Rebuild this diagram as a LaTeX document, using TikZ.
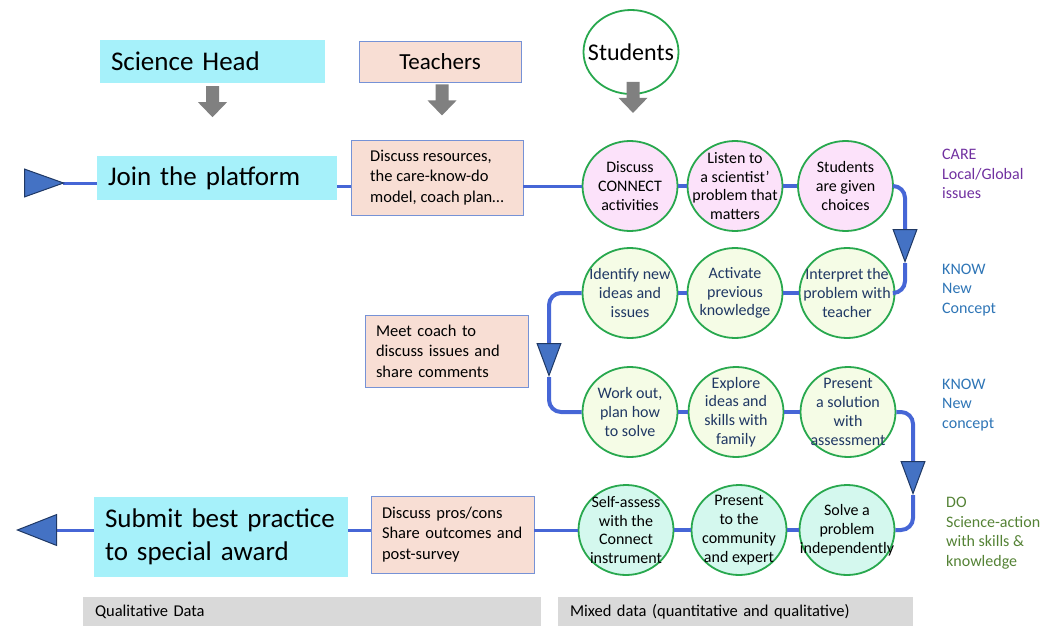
\documentclass[tikz,border=0pt]{standalone}
\usepackage{fontspec}
\setmainfont{Carlito}
\usetikzlibrary{arrows.meta, positioning, shapes.geometric}

% colours
\definecolor{headcyan}{RGB}{166,241,250}
\definecolor{peach}{RGB}{248,222,212}
\definecolor{peachline}{RGB}{118,146,214}
\definecolor{ringgreen}{RGB}{40,168,78}
\definecolor{carefill}{RGB}{252,226,250}
\definecolor{knowfill}{RGB}{245,252,230}
\definecolor{dofill}{RGB}{212,248,238}
\definecolor{flowblue}{RGB}{70,102,214}
\definecolor{tipblue}{RGB}{68,114,196}
\definecolor{tipnavy}{RGB}{31,56,100}
\definecolor{knownavy}{RGB}{32,56,100}
\definecolor{careviolet}{RGB}{112,48,160}
\definecolor{knowblue}{RGB}{46,117,182}
\definecolor{dogreen}{RGB}{84,130,53}
\definecolor{arrowgray}{RGB}{128,128,128}
\definecolor{bandgray}{RGB}{217,217,217}

\newcommand{\ringwidth}{95pt}
\newcommand{\ringheight}{90pt}

\tikzstyle{role} = [% cyan heading box
  rectangle,
  fill=headcyan,
  inner xsep=11pt,
  inner ysep=0pt,
  align=left,
  font=\fontsize{27}{32.5}\selectfont
  ]
\tikzstyle{note} = [% peach text box
  rectangle,
  draw=peachline,
  fill=peach,
  line width=0.9pt,
  inner xsep=11pt,
  inner ysep=0pt,
  font=\fontsize{16.5}{20.5}\selectfont
  ]
\tikzstyle{ring} = [% activity circle
  ellipse,
  minimum width=\ringwidth,
  minimum height=\ringheight,
  inner sep=-26pt, % negative, so the text never grows the ring
  draw=ringgreen,
  line width=1.8pt,
  align=center,
  font=\fontsize{16}{18.8}\selectfont
  ]
\tikzstyle{band} = [% grey data band
  rectangle,
  fill=bandgray,
  minimum height=29pt,
  inner xsep=12pt,
  align=left,
  font=\fontsize{16.5}{19}\selectfont
  ]
\tikzstyle{tag} = [% phase label on the right
  anchor=west,
  align=left,
  inner sep=0pt,
  font=\fontsize{16}{19.5}\selectfont
  ]
\tikzstyle{link} = [% thin connector
  line width=3pt,
  draw=flowblue
  ]
\tikzstyle{flow} = [% thick connector between circles
  line width=4pt,
  draw=flowblue,
  rounded corners=12pt
  ]

\tikzset{
  startmark/.tip={Triangle[reversed, length=41pt, width=29pt,
    color=tipnavy, fill=tipblue, line width=1pt]},
  turnmark/.tip={Triangle[length=34pt, width=25pt,
    color=tipnavy, fill=tipblue, line width=1pt]},
  endmark/.tip={Triangle[length=41pt, width=32pt,
    color=tipnavy, fill=tipblue, line width=1pt]},
  dropdown/.pic={% grey arrow under a heading
    \fill[arrowgray] (-6.5,0) -- (6.5,0) -- (6.5,16) -- (14.5,16)
      -- (0,31) -- (-14.5,16) -- (-6.5,16) -- cycle;
  }
}

\begin{document}
\begin{tikzpicture}[x=1pt, y=-1pt]
\useasboundingbox (0,0) rectangle (1056,626);

%%% Headings
\node[role, minimum width=225pt, minimum height=43pt, text width=203pt] (head) at (212.5,61.5) {Science Head};
\node[note, minimum width=162pt, minimum height=41pt, font=\fontsize{23}{27}\selectfont] (teach) at (440,61.5) {Teachers};
\node[ring, fill=white, minimum height=84pt, font=\fontsize{24}{28}\selectfont] (stud) at (631,52) {Students};

\pic at ([yshift=-3pt]head.south) {dropdown};
\pic at ([xshift=2pt, yshift=-2pt]teach.south) {dropdown};
\pic at ([xshift=2pt, yshift=13pt]stud.south) {dropdown};

%%% Boxes
\node[role, minimum height=44pt, text width=218pt] (join) at (217,178) {Join the platform};
\node[note, minimum width=172pt, minimum height=75pt, align=left] (res) at (437,177.5) {Discuss resources,\\the care-know-do\\model, coach plan\dots};
\node[note, minimum height=72pt, text width=141pt, align=left] (coach) at (446.5,351) {Meet coach to\\discuss issues and\\share comments};
\node[note, minimum height=77pt, text width=141pt, align=left] (pros) at (452.5,534.5) {Discuss pros/cons\\Share outcomes and\\post-survey};
\node[role, minimum height=80pt, text width=232pt] (award) at (221,537) {Submit best practice\\to special award};

%%% Circles
\node[ring, fill=carefill] (c1) at (630,186) {Discuss\\CONNECT\\activities};
\node[ring, fill=carefill] (c2) at (735,186) {Listen to\\a scientist’\\problem that\\matters};
\node[ring, fill=carefill] (c3) at (845.5,186) {Students\\are given\\choices};

\node[ring, fill=knowfill, text=knownavy] (c4) at (630,293) {Identify new\\ideas and\\issues};
\node[ring, fill=knowfill, text=knownavy] (c5) at (735,293) {Activate\\previous\\knowledge};
\node[ring, fill=knowfill, text=knownavy] (c6) at (847,293) {Interpret the\\problem with\\teacher};

\node[ring, fill=knowfill, text=knownavy] (c7) at (630,412) {Work out,\\plan how\\to solve};
\node[ring, fill=knowfill, text=knownavy] (c8) at (736,412) {Explore\\ideas and\\skills with\\family};
\node[ring, fill=knowfill, text=knownavy] (c9) at (848,412) {Present\\a solution\\with\\assessment};

\node[ring, fill=dofill] (c10) at (626,530) {Self-assess\\with the\\Connect\\instrument};
\node[ring, fill=dofill] (c11) at (739,530) {Present\\to the\\community\\and expert};
\node[ring, fill=dofill] (c12) at (847,530) {Solve a\\problem\\independently};

%%% Phase labels
\node[tag, text=careviolet] (care) at (942,174) {CARE\\Local/Global\\issues};
\node[tag, text=knowblue] (know) at (942,290) {KNOW\\New\\Concept};
\node[tag, text=knowblue] (knowb) at (942,405) {KNOW\\New\\concept};
\node[tag, text=dogreen] (do) at (946,533) {DO\\Science-action\\with skills \&\\knowledge};

%%% Data bands
\node[band, minimum width=458pt, text width=434pt] (qual) at (312,611.5) {Qualitative Data};
\node[band, minimum width=355pt, text width=331pt] (mixed) at (735.5,611.5) {Mixed data (quantitative and qualitative)};

%%% Connectors
\coordinate (entry) at (24,183);
\coordinate (turnA) at (905,263);
\coordinate (turnB) at (549,377);
\coordinate (turnC) at (913,495);
\coordinate (exit) at (16,530);

\draw[link, {startmark}-] (entry) -- (join.west |- entry);
\draw[link] (join.east |- c1) -- (res.west |- c1);
\draw[link] (res.east |- c1) -- (c1);
\draw[flow] (c1) -- (c2);
\draw[flow] (c2) -- (c3);
\draw[flow, -{turnmark}] (c3.east) -| (turnA);
\draw[flow] (turnA) |- (c6.east);
\draw[flow] (c6) -- (c5);
\draw[flow] (c5) -- (c4);
\draw[flow, -{turnmark}] (c4.west) -| (turnB);
\draw[flow] (turnB) |- (c7.west);
\draw[flow] (c7) -- (c8);
\draw[flow] (c8) -- (c9);
\draw[flow, -{turnmark}] (c9.east) -| (turnC);
\draw[flow] (turnC) |- (c12.east);
\draw[flow] (c12) -- (c11);
\draw[flow] (c11) -- (c10);
\draw[link] (c10) -- (pros.east |- c10);
\draw[link] (pros.west |- c10) -- (award.east |- c10);
\draw[link, -{endmark}] (award.west |- c10) -- (exit);

\end{tikzpicture}
\end{document}
